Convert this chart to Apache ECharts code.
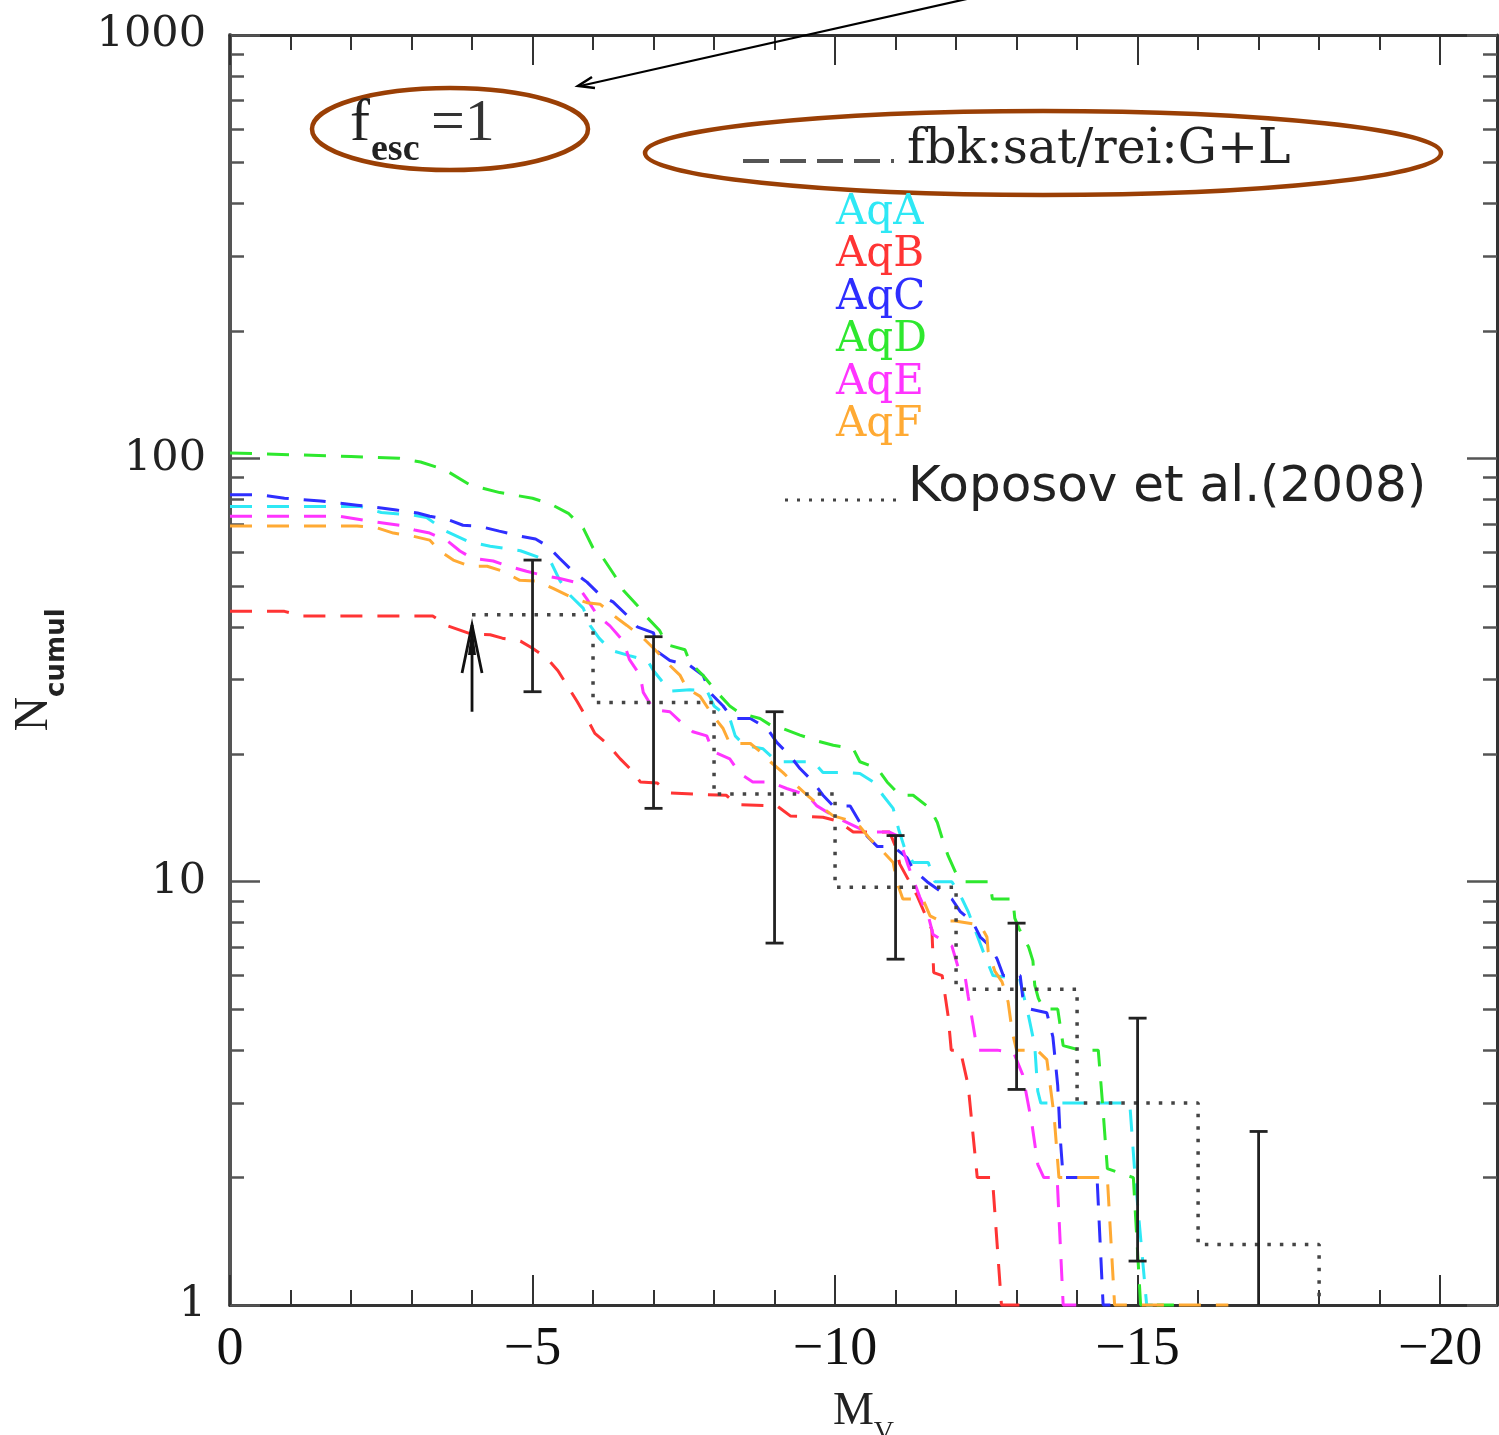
<!DOCTYPE html>
<html><head><meta charset="utf-8">
<script src="https://cdn.jsdelivr.net/npm/echarts@6/dist/echarts.min.js"></script>
<style>html,body{margin:0;padding:0;background:#fff}#c{width:1499px;height:1435px}</style>
</head><body><div id="c"></div>
<script>
// ---------------- DATA ----------------
const aqA = [[0,77],[-2.15,77],[-2.5,74.5],[-3.0,73.5],[-3.25,72.5],[-3.55,67.5],[-3.95,63.5],[-4.3,62],[-4.8,60.5],[-5.3,57],[-5.45,51.5],[-5.62,47.5],[-5.84,44.2],[-5.95,40.3],[-6.1,37.6],[-6.3,35.2],[-6.6,34.2],[-6.9,33.3],[-7.0,31.5],[-7.27,28.2],[-7.6,28.4],[-7.88,28.3],[-8.0,26],[-8.26,24.3],[-8.35,22.1],[-8.5,21],[-8.81,20.6],[-9.04,19.2],[-9.64,19.2],[-9.8,18.1],[-10.2,18.1],[-10.41,18],[-10.63,17.2],[-10.79,16],[-10.96,14.9],[-11.05,13.3],[-11.15,12],[-11.29,11.1],[-11.54,11.1],[-11.65,10],[-11.93,10],[-12.1,9.1],[-12.2,8.5],[-12.48,6.65],[-12.61,6.0],[-13.05,5.9],[-13.2,4.8],[-13.3,4.1],[-13.35,3.2],[-13.4,3.0],[-14.87,3.0],[-14.96,2.0],[-15.15,1.0],[-15.25,1.0]];
const aqB = [[0,43.5],[-0.9,43.5],[-1.2,42.4],[-3.35,42.4],[-3.6,40.2],[-4.0,38.4],[-4.3,38.3],[-4.5,37.6],[-4.8,37],[-5.0,35.6],[-5.24,33.7],[-5.42,31.5],[-5.57,29.1],[-5.74,26.6],[-5.9,24.3],[-6.03,22.4],[-6.23,21.2],[-6.45,19.5],[-6.66,18.2],[-6.78,17.2],[-7.06,17.1],[-7.27,16.2],[-7.65,16.1],[-8.2,16.0],[-8.38,15.2],[-9.04,15.1],[-9.26,14.3],[-9.8,14.2],[-10.05,13.9],[-10.3,13.1],[-10.9,13.1],[-11.0,12.1],[-11.07,11.0],[-11.35,9.3],[-11.6,7.7],[-11.63,6.1],[-11.77,6.0],[-11.87,4.8],[-11.92,4.0],[-12.07,4.0],[-12.2,3.3],[-12.35,2.0],[-12.6,2.0],[-12.75,1.0],[-13.05,1.0]];
const aqC = [[0,82],[-0.5,82],[-0.9,80.5],[-1.5,79.3],[-2.1,77.5],[-2.5,76.3],[-2.75,75.5],[-3.1,74.3],[-3.3,73],[-3.6,71.7],[-3.85,69.5],[-4.1,69.2],[-4.45,67.3],[-4.8,65.5],[-5.05,64.5],[-5.25,62],[-5.45,58],[-5.67,54],[-5.9,51],[-6.12,47.5],[-6.33,45.8],[-6.56,42.6],[-6.73,40],[-7.0,38.7],[-7.06,35],[-7.27,33.3],[-7.6,32.4],[-7.82,30.7],[-7.93,28],[-8.15,26],[-8.3,24.3],[-8.6,24.3],[-8.88,23],[-9.04,21.3],[-9.26,19.8],[-9.42,18.5],[-9.64,17.2],[-9.8,16],[-9.97,15.1],[-10.25,15.1],[-10.41,13.8],[-10.53,12.8],[-10.7,12.1],[-10.96,12.1],[-11.19,11.4],[-11.29,10.7],[-11.52,10],[-11.74,9.5],[-11.93,9.1],[-12.07,8.5],[-12.28,8],[-12.4,7.4],[-12.56,7.05],[-12.68,6.56],[-12.78,6.0],[-13.06,6.0],[-13.1,5.36],[-13.22,5.0],[-13.5,4.9],[-13.6,4.3],[-13.68,3.3],[-13.72,2.5],[-13.77,2.0],[-14.33,2.0],[-14.43,1.0],[-14.55,1.0]];
const aqD = [[0,103],[-1.0,102],[-2.0,101],[-2.8,100],[-3.15,98],[-3.55,94],[-3.97,86.5],[-4.46,83],[-5.0,80.5],[-5.3,78],[-5.6,74],[-5.84,68.3],[-6.0,61.4],[-6.17,58],[-6.36,52.8],[-6.5,48.8],[-6.74,44.8],[-6.9,42],[-7.1,39.2],[-7.22,36.3],[-7.52,35.3],[-7.6,33],[-7.82,30.7],[-8.05,28],[-8.26,26],[-8.43,25],[-8.76,24.3],[-8.98,23.2],[-9.14,23],[-9.42,22.2],[-9.7,21.5],[-9.97,21],[-10.3,20.6],[-10.41,19.2],[-10.7,18.5],[-10.86,17.2],[-11.07,16],[-11.29,16],[-11.57,14.9],[-11.69,13.8],[-11.79,12.4],[-11.87,11.5],[-12.02,10.3],[-12.1,10],[-12.56,10],[-12.6,9.1],[-12.94,9.1],[-12.97,8.2],[-13.05,7.7],[-13.2,7.0],[-13.27,6.5],[-13.3,5.7],[-13.36,5.3],[-13.45,5.0],[-13.68,5.0],[-13.77,4.1],[-14.05,4.0],[-14.35,4.0],[-14.42,3.0],[-14.5,2.1],[-14.93,2.0],[-15.05,1.0],[-15.6,1.0]];
const aqE = [[0,73],[-1.8,73],[-2.3,71.1],[-2.8,69.5],[-3.05,67.7],[-3.3,66.6],[-3.6,63.7],[-3.8,60.4],[-4.0,58.1],[-4.35,57.2],[-4.55,55.9],[-4.9,54.1],[-5.15,53],[-5.45,52],[-5.7,51],[-5.9,46.5],[-6.07,42.6],[-6.28,40.2],[-6.5,37],[-6.6,33.5],[-6.78,30.7],[-6.83,28],[-7.0,25.5],[-7.27,25.2],[-7.44,23.9],[-7.65,22.6],[-7.88,22.1],[-7.98,20.3],[-8.26,19.5],[-8.43,18],[-8.64,17.2],[-8.93,17.2],[-9.2,16.6],[-9.54,16],[-9.7,15.1],[-9.97,14.3],[-10.53,13.1],[-10.9,13.1],[-11.05,12.8],[-11.2,11],[-11.4,9.2],[-11.55,8.2],[-11.62,7.5],[-11.93,7.05],[-12.03,6.3],[-12.15,5.95],[-12.2,5.36],[-12.28,4.6],[-12.35,4.0],[-12.68,4.0],[-12.95,3.95],[-13.1,3.5],[-13.25,2.7],[-13.35,2.15],[-13.45,2.0],[-13.67,2.0],[-13.77,1.0],[-14.2,1.0]];
const aqF = [[0,69.2],[-2.1,69.2],[-2.43,68.5],[-2.7,66.6],[-3.02,65.5],[-3.3,64.1],[-3.47,60.4],[-3.69,57.5],[-3.97,55.6],[-4.25,55.6],[-4.51,54.1],[-4.79,51.5],[-5.07,51.3],[-5.34,49.3],[-5.57,47.5],[-5.9,45.6],[-6.12,45.2],[-6.4,41.9],[-6.56,40.3],[-6.83,37.6],[-7.0,35.6],[-7.27,32.4],[-7.44,30.7],[-7.55,28.6],[-7.77,27.4],[-7.98,24.7],[-8.15,23],[-8.26,21.2],[-8.6,21.2],[-8.76,20.3],[-8.93,19.2],[-9.14,18.1],[-9.3,17.2],[-9.54,16],[-9.75,15.1],[-9.97,14.3],[-10.2,14],[-10.41,13.5],[-10.58,12.6],[-10.74,12],[-10.96,11.1],[-11.02,10],[-11.12,9.1],[-11.45,9.1],[-11.57,8.3],[-11.74,8.07],[-11.98,8.07],[-12.4,7.9],[-12.51,7.4],[-12.53,6.85],[-12.64,6.15],[-12.76,5.8],[-12.86,5.2],[-12.93,4.4],[-13.0,4.0],[-13.34,4.0],[-13.5,3.8],[-13.62,2.8],[-13.7,2.0],[-14.5,2.0],[-14.62,1.0],[-16.5,1.0]];

const seriesNames = ['AqA','AqB','AqC','AqD','AqE','AqF'];
const seriesColors = ['#2ee8f5','#ff3434','#2e2eff','#2ee82e','#ff34ff','#ffaa34'];

// Koposov et al. (2008) cumulative steps
const kopEdges = [-4,-6,-8,-10,-12,-14,-16,-18];
const kopN = [42.7,26.5,16.1,9.7,5.57,3.0,1.39];
// error bars
const errX  = [-5,-7,-9,-11,-13,-15,-17];
const errHi = [57.5,37.9,25.2,12.85,7.98,4.76,2.57];
const errLo = [28.1,14.9,7.16,6.56,3.23,1.27,0.8];
// annotation arrow at Mv=-4
const arrowMv = -4, arrowFrom = 25.2, arrowTo = 40.4;

// ticks
const xMajor = [0,-5,-10,-15,-20];
const xMinor = [0,-1,-2,-3,-4,-5,-6,-7,-8,-9,-10,-11,-12,-13,-14,-15,-16,-17,-18,-19,-20];
const yMajor = [1,10,100,1000];
const yMinor = [2,3,4,5,6,7,8,9,20,30,40,50,60,70,80,90,200,300,400,500,600,700,800,900];

// ---------------- CHART ----------------
const chart = echarts.init(document.getElementById('c'));
const AX = '#333';
const SERIF = '"DejaVu Serif", serif';
const RSERIF = '"Liberation Serif", serif';

function xAx(pos, vals, len, line, label){
  return {
    type:'value', position:pos, min:-20.94, max:0, inverse:true,
    axisLine:{show:line, onZero:false, lineStyle:{color:AX, width:3}},
    axisTick:{show:true, inside:true, length:len, customValues:vals, lineStyle:{color:AX, width:2}},
    axisLabel:{show:label, customValues:vals, margin:18, fontFamily:RSERIF, fontSize:54, color:'#111',
      formatter:v => v===0 ? '0' : '\u2212' + Math.abs(Math.round(v))},
    splitLine:{show:false}
  };
}
function yAx(pos, vals, len, line, label){
  return {
    type:'log', logBase:10, position:pos, min:1, max:1000,
    axisLine:{show:line, onZero:false, lineStyle:{color:pos==='left'?'#555':AX, width:pos==='left'?4:3}},
    axisTick:{show:true, inside:true, length:len, customValues:vals, lineStyle:{color:'#555', width:2.5}},
    axisLabel:{show:label, customValues:vals, margin:24, fontFamily:SERIF, fontSize:43, color:'#222',
      formatter:v => String(Math.round(v))},
    splitLine:{show:false}, minorTick:{show:false}
  };
}

const xAxes = [xAx('bottom', xMajor, 30, true, true), xAx('bottom', xMinor, 15, false, false),
               xAx('top', xMajor, 30, true, false), xAx('top', xMinor, 15, false, false)];
Object.assign(xAxes[0], {
  name:'{m|M}{v|V}', nameLocation:'middle', nameGap:84,
  nameTextStyle:{rich:{
    m:{fontFamily:RSERIF, fontSize:46, color:'#222', verticalAlign:'bottom', padding:[0,0,12,0]},
    v:{fontFamily:RSERIF, fontSize:28, color:'#222', verticalAlign:'bottom'}
  }}
});
const yAxes = [yAx('left', yMajor, 30, true, true), yAx('left', yMinor, 14, false, false),
               yAx('right', yMajor, 30, true, false), yAx('right', yMinor, 14, false, false)];
Object.assign(yAxes[0], {
  name:'{n|N}{c|cumul}', nameLocation:'middle', nameGap:160,
  nameTextStyle:{rich:{
    n:{fontFamily:RSERIF, fontSize:48, color:'#222', verticalAlign:'bottom', padding:[0,0,12,0]},
    c:{fontFamily:'"DejaVu Sans", sans-serif', fontWeight:'bold', fontSize:26, color:'#222', verticalAlign:'bottom'}
  }}
});

const series = [aqA,aqB,aqC,aqD,aqE,aqF].map((d,i)=>({
  type:'line', name:seriesNames[i], data:d, xAxisIndex:0, yAxisIndex:0,
  symbol:'none', showSymbol:false, clip:false, z:3, animation:false,
  lineStyle:{color:seriesColors[i], width:3, type:[22,15], cap:'butt'}
}));

// Koposov dotted step line
const kopData = kopN.map((n,i)=>[kopEdges[i], n]).concat([[kopEdges[kopEdges.length-1], 1]]);
series.push({
  type:'line', name:'Koposov', step:'end', data:kopData, symbol:'none', showSymbol:false,
  clip:false, z:4, animation:false,
  lineStyle:{color:'#444', width:3.5, type:[3.5,9], cap:'butt'}
});

// error bars
series.push({
  type:'custom', name:'err', clip:true, z:6, animation:false,
  data: errX.map((x,i)=>[x, errHi[i], errLo[i]]),
  encode:{x:0, y:[1,2]},
  renderItem:(params, api)=>{
    const x = api.value(0);
    const t = api.coord([x, api.value(1)]);
    const b = api.coord([x, api.value(2)]);
    const hw = 9, st = {stroke:'#222', lineWidth:2.8};
    return {type:'group', children:[
      {type:'line', shape:{x1:t[0],y1:t[1],x2:b[0],y2:b[1]}, style:st},
      {type:'line', shape:{x1:t[0]-hw,y1:t[1],x2:t[0]+hw,y2:t[1]}, style:st},
      {type:'line', shape:{x1:b[0]-hw,y1:b[1],x2:b[0]+hw,y2:b[1]}, style:st}
    ]};
  }
});

// vertical arrow at Mv=-4
series.push({
  type:'custom', name:'arrow', clip:false, z:6, animation:false,
  data:[[arrowMv, arrowFrom, arrowTo]],
  encode:{x:0, y:[1,2]},
  renderItem:(params, api)=>{
    const x = api.value(0);
    const a = api.coord([x, api.value(1)]);
    const t = api.coord([x, api.value(2)]);
    const st = {stroke:'#111', lineWidth:2.8, fill:'none'};
    return {type:'group', children:[
      {type:'line', shape:{x1:a[0],y1:a[1],x2:t[0],y2:t[1]}, style:st},
      {type:'polyline', shape:{points:[[t[0]-10,t[1]+48],[t[0],t[1]],[t[0]+10,t[1]+48]]}, style:st},
      {type:'polygon', shape:{points:[[t[0]-4,t[1]+30],[t[0],t[1]],[t[0]+4,t[1]+30]]}, style:{fill:'#111'}}
    ]};
  }
});

// ---------------- ANNOTATIONS ----------------
const brown = '#9a3f05';
const legendTop = 213, legendStep = 42.4;
const TA = {textAlign:'left', textVerticalAlign:'middle', align:'left', verticalAlign:'middle'};
const graphics = [
  {type:'ellipse', shape:{cx:450, cy:129, rx:138, ry:41}, style:{fill:'none', stroke:brown, lineWidth:4.5}, z:10},
  {type:'ellipse', shape:{cx:1043, cy:153, rx:398, ry:42}, style:{fill:'none', stroke:brown, lineWidth:4.5}, z:10},
  {type:'line', shape:{x1:980, y1:-4, x2:580, y2:86}, style:{stroke:'#000', lineWidth:2.2}, z:10},
  {type:'polyline', shape:{points:[[595,88],[578,86],[592,77]]}, style:{stroke:'#000', lineWidth:2.5, fill:'none'}, z:10},
  {type:'text', x:350, y:124, style:Object.assign({text:'f', font:'60px "Liberation Serif", serif', fill:'#222'}, TA), z:10},
  {type:'text', x:371, y:150, style:Object.assign({text:'esc', font:'bold 38px "Liberation Serif", serif', fill:'#222'}, TA), z:10},
  {type:'text', x:431, y:124, style:Object.assign({text:'=1', font:'60px "Liberation Serif", serif', fill:'#333'}, TA), z:10},
  {type:'line', shape:{x1:743, y1:161, x2:894, y2:161}, style:{stroke:'#555', lineWidth:4, lineDash:[26,11]}, z:10},
  {type:'text', x:907, y:150, style:Object.assign({text:'fbk:sat/rei:G+L', font:'49px "DejaVu Serif", serif', fill:'#222'}, TA), z:10},
  {type:'line', shape:{x1:785, y1:500, x2:900, y2:500}, style:{stroke:'#444', lineWidth:3, lineDash:[3,9]}, z:10},
  {type:'text', x:908, y:488, style:Object.assign({text:'Koposov et al.(2008)', font:'50px "DejaVu Sans", sans-serif', fill:'#222'}, TA), z:10}
];
seriesNames.forEach((n,i)=>{
  graphics.push({type:'text', x:836, y:legendTop + i*legendStep,
    style:Object.assign({text:n, font:'42px "DejaVu Serif", serif', fill:seriesColors[i]}, TA), z:10});
});

chart.setOption({
  animation:false,
  backgroundColor:'#fff',
  grid:{left:230, right:2, top:35, bottom:130, containLabel:false, outerBoundsMode:'none'},
  xAxis:xAxes,
  yAxis:yAxes,
  series:series,
  graphic:graphics
});
</script>
</body></html>
